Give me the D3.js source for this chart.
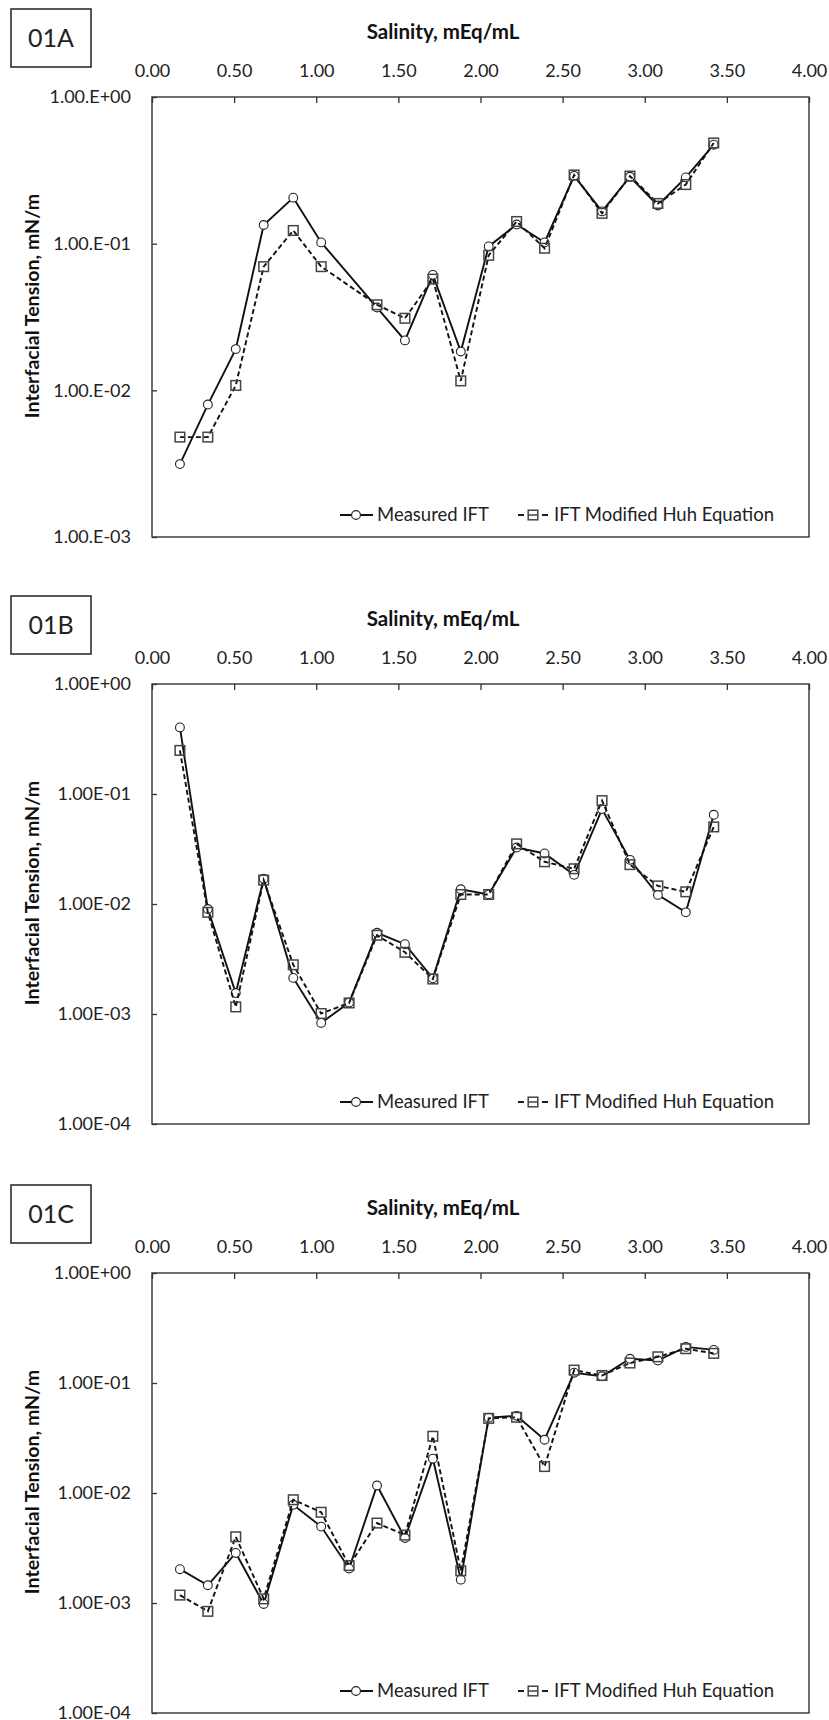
<!DOCTYPE html>
<html>
<head>
<meta charset="utf-8">
<script src="https://cdn.jsdelivr.net/npm/d3@7"></script>
<style>
  body { margin: 0; background: #fff; }
  text { font-family: Lato, "Open Sans", sans-serif; fill: #222; }
  .tick-label { font-size: 18px; }
  .ax-title { font-weight: bold; fill: #111; }
  .legend text { font-size: 18.5px; }
  .panel-tag { font-size: 25px; }
</style>
</head>
<body>
<script>
// salinity, mEq/mL (shared by all three panels)
var salinity = [0.17, 0.34, 0.51, 0.68, 0.86, 1.03, 1.20, 1.37, 1.54, 1.71,
                1.88, 2.05, 2.22, 2.39, 2.57, 2.74, 2.91, 3.08, 3.25, 3.42];

// panel 01A (no point at 1.20)
var measuredA = [0.00314, 0.0080, 0.0191, 0.134, 0.206, 0.102, null, 0.0367, 0.0219, 0.0613,
                 0.0184, 0.0958, 0.135, 0.102, 0.290, 0.166, 0.286, 0.182, 0.283, 0.473];
var huhA = [0.0048, 0.0048, 0.0108, 0.0697, 0.123, 0.0697, null, 0.0383, 0.031, 0.0573,
            0.0116, 0.0833, 0.1416, 0.0931, 0.294, 0.161, 0.289, 0.188, 0.253, 0.486];

// panel 01B
var measuredB = [0.403, 0.0090, 0.00155, 0.0170, 0.00213, 0.00083, 0.00127, 0.00547, 0.00431, 0.00211,
                 0.0136, 0.0122, 0.0326, 0.0288, 0.0184, 0.0729, 0.0252, 0.0121, 0.0084, 0.0647];
var huhB = [0.249, 0.0084, 0.00116, 0.0165, 0.0028, 0.00101, 0.00126, 0.0052, 0.00364, 0.00208,
            0.0122, 0.0122, 0.0352, 0.0242, 0.0209, 0.0871, 0.0228, 0.0146, 0.0129, 0.0502];

// panel 01C
var measuredC = [0.00203, 0.00145, 0.00285, 0.00098, 0.00781, 0.00495, 0.00206, 0.0117, 0.0039, 0.0205,
                 0.00163, 0.0484, 0.0503, 0.0305, 0.124, 0.115, 0.166, 0.160, 0.213, 0.200];
var huhC = [0.00118, 0.00084, 0.0040, 0.00109, 0.00868, 0.00668, 0.00219, 0.00533, 0.00414, 0.0328,
            0.00196, 0.0477, 0.0488, 0.0174, 0.131, 0.117, 0.152, 0.173, 0.205, 0.186];

// axis ticks / labels
var xTicks = [0, 0.5, 1, 1.5, 2, 2.5, 3, 3.5, 4];
var yTicksA = [1, 0.1, 0.01, 0.001];
var yLabelsA = ["1.00.E+00", "1.00.E-01", "1.00.E-02", "1.00.E-03"];
var yTicksBC = [1, 0.1, 0.01, 0.001, 0.0001];
var yLabelsBC = ["1.00E+00", "1.00E-01", "1.00E-02", "1.00E-03", "1.00E-04"];

var panelTags = ["01A", "01B", "01C"];
var seriesNames = ["Measured IFT", "IFT Modified Huh Equation"];

var W = 829, H = 1720;
var svg = d3.select("body").append("svg")
    .attr("width", W)
    .attr("height", H);

// plot box inside each panel
var left = 152, right = 809, top0 = 97, bottom0 = 537;

function drawPanel(offset, tag, measured, huh, yTicks, yLabels) {
    var g = svg.append("g").attr("transform", "translate(0," + offset + ")");

    var x = d3.scaleLinear().domain([0, 4]).range([left, right]);
    var y = d3.scaleLog().domain([d3.min(yTicks), 1]).range([bottom0, top0]);

    // tag box
    g.append("rect")
        .attr("x", 11).attr("y", 9).attr("width", 80).attr("height", 58)
        .style("fill", "none").style("stroke", "#222").style("stroke-width", 1.5);
    g.append("text").attr("class", "panel-tag")
        .attr("x", 51).attr("y", 38).attr("dy", "0.35em")
        .attr("text-anchor", "middle")
        .text(tag);

    // x axis title
    g.append("text").attr("class", "ax-title")
        .attr("x", 443).attr("y", 32).attr("dy", "0.35em")
        .attr("text-anchor", "middle")
        .style("font-size", "20.5px")
        .text("Salinity, mEq/mL");

    // y axis title
    g.append("text").attr("class", "ax-title")
        .attr("transform", "translate(32," + ((top0 + bottom0) / 2 - 11) + ") rotate(-90)")
        .attr("dy", "0.35em")
        .attr("text-anchor", "middle")
        .style("font-size", "19.6px")
        .text("Interfacial Tension, mN/m");

    // top axis, ticks point into the plot
    var xAxis = d3.axisTop(x).tickValues(xTicks).tickSize(-6).tickPadding(20)
        .tickFormat(d3.format(".2f"));
    var gx = g.append("g").attr("transform", "translate(0," + top0 + ")").call(xAxis);
    gx.select(".domain").remove();
    gx.selectAll("line").style("stroke", "#333").style("stroke-width", 1.3);
    gx.selectAll("text").attr("class", "tick-label");
    gx.attr("font-family", null).attr("font-size", null);

    var yAxis = d3.axisLeft(y).tickValues(yTicks).tickSize(-5).tickPadding(21)
        .tickFormat(function(d, i) { return yLabels[i]; });
    var gy = g.append("g").attr("transform", "translate(" + left + ",0)").call(yAxis);
    gy.select(".domain").remove();
    gy.selectAll("line").style("stroke", "#333").style("stroke-width", 1.3);
    gy.selectAll("text").attr("class", "tick-label");
    gy.attr("font-family", null).attr("font-size", null);

    // plot frame
    g.append("rect")
        .attr("x", left).attr("y", top0)
        .attr("width", right - left).attr("height", bottom0 - top0)
        .style("fill", "none").style("stroke", "#333").style("stroke-width", 1.4);

    var ptsM = salinity.map(function(s, i) { return [s, measured[i]]; })
        .filter(function(d) { return d[1] != null; });
    var ptsH = salinity.map(function(s, i) { return [s, huh[i]]; })
        .filter(function(d) { return d[1] != null; });

    var line = d3.line()
        .x(function(d) { return x(d[0]); })
        .y(function(d) { return y(d[1]); });

    g.append("path").datum(ptsM)
        .attr("d", line)
        .style("fill", "none").style("stroke", "#111").style("stroke-width", 1.9);

    g.selectAll(".circ").data(ptsM).enter().append("circle")
        .attr("class", "circ")
        .attr("cx", function(d) { return x(d[0]); })
        .attr("cy", function(d) { return y(d[1]); })
        .attr("r", 4.4)
        .style("fill", "#fff").style("stroke", "#222").style("stroke-width", 1.1);

    g.append("path").datum(ptsH)
        .attr("d", line)
        .style("fill", "none").style("stroke", "#111").style("stroke-width", 1.9)
        .style("stroke-dasharray", "5,3");

    g.selectAll(".sq").data(ptsH).enter().append("rect")
        .attr("class", "sq")
        .attr("x", function(d) { return x(d[0]) - 4.8; })
        .attr("y", function(d) { return y(d[1]) - 4.8; })
        .attr("width", 9.6).attr("height", 9.6)
        .style("fill", "none").style("stroke", "#444").style("stroke-width", 1.5);

    // legend
    var lg = g.append("g").attr("class", "legend").attr("transform", "translate(0,515)");
    lg.append("line").attr("x1", 340).attr("x2", 373).attr("y1", 0).attr("y2", 0)
        .style("stroke", "#111").style("stroke-width", 1.9);
    lg.append("circle").attr("cx", 356).attr("cy", 0).attr("r", 4.4)
        .style("fill", "#fff").style("stroke", "#222").style("stroke-width", 1.1);
    lg.append("text").attr("x", 377).attr("y", 0).attr("dy", "0.35em").text(seriesNames[0]);

    lg.append("line").attr("x1", 518).attr("x2", 524).attr("y1", 0).attr("y2", 0)
        .style("stroke", "#111").style("stroke-width", 1.9);
    lg.append("line").attr("x1", 529).attr("x2", 537).attr("y1", 0).attr("y2", 0)
        .style("stroke", "#111").style("stroke-width", 1.2);
    lg.append("line").attr("x1", 542).attr("x2", 548).attr("y1", 0).attr("y2", 0)
        .style("stroke", "#111").style("stroke-width", 1.9);
    lg.append("rect").attr("x", 528.2).attr("y", -4.8).attr("width", 9.6).attr("height", 9.6)
        .style("fill", "none").style("stroke", "#444").style("stroke-width", 1.5);
    lg.append("text").attr("x", 554).attr("y", 0).attr("dy", "0.35em").text(seriesNames[1]);
}

drawPanel(0, panelTags[0], measuredA, huhA, yTicksA, yLabelsA);
drawPanel(587, panelTags[1], measuredB, huhB, yTicksBC, yLabelsBC);
drawPanel(1176, panelTags[2], measuredC, huhC, yTicksBC, yLabelsBC);
</script>
</body>
</html>
